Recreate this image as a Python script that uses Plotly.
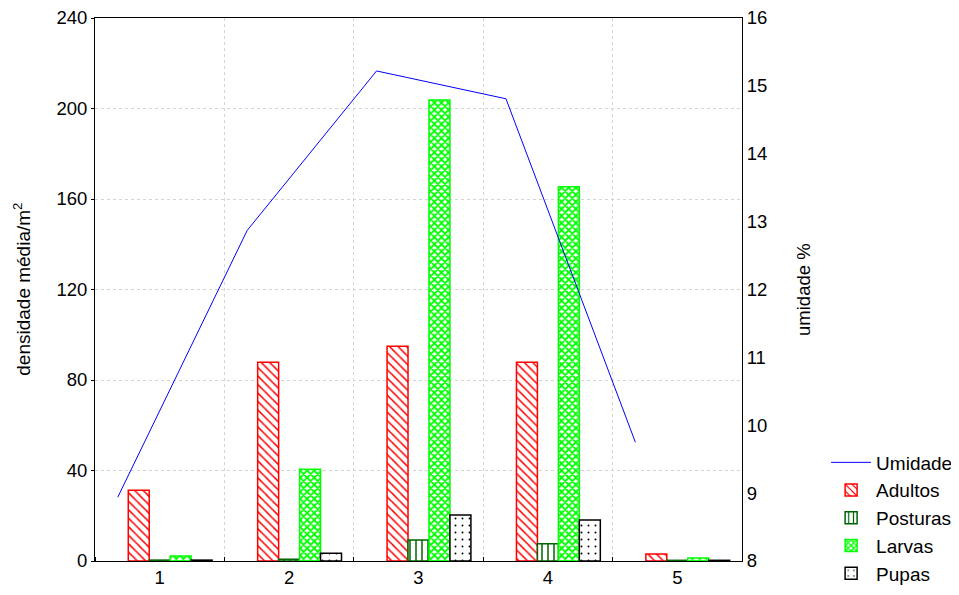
import plotly.graph_objects as go

categories = [1, 2, 3, 4, 5]
umidade = [8.94, 12.87, 15.22, 14.81, 9.75]
adultos = [31.3, 87.8, 94.9, 87.8, 3.1]
posturas = [0.4, 0.8, 9.3, 7.6, 0.3]
larvas = [2.2, 40.6, 203.8, 165.4, 1.3]
pupas = [0.4, 3.4, 20.3, 18.1, 0.3]

slot = 0.162  # width of one series slot within a category group
n_slots = 5
group_start = -n_slots * slot / 2

font_family = "Liberation Sans, Arial, sans-serif"

fig = go.Figure()

# line series occupies the first slot of each group
line_x = [c + group_start + slot / 2 for c in categories]
fig.add_trace(go.Scatter(
    x=line_x, y=umidade, name="Umidade", mode="lines",
    line=dict(color="#0000ff", width=1), yaxis="y2",
))

bar_specs = [
    ("Adultos", adultos, "#ff0000", "\\", 6, 0.25),
    ("Posturas", posturas, "#006400", "|", 6, 0.25),
    ("Larvas", larvas, "#00ff00", "x", 5, 0.6),
    ("Pupas", pupas, "#000000", ".", 7, 0.06),
]
for k, (name, vals, col, shape, size, sol) in enumerate(bar_specs, start=1):
    fig.add_trace(go.Bar(
        x=categories, y=vals, name=name,
        width=slot, offset=group_start + k * slot,
        marker=dict(
            color="white",
            line=dict(color=col, width=1.5),
            pattern=dict(shape=shape, fgcolor=col, bgcolor="white",
                         size=size, solidity=sol, fillmode="replace"),
        ),
    ))

grid_col = "#d4d4d4"

fig.update_layout(
    width=959, height=595,
    margin=dict(l=87, r=225, t=10, b=42, autoexpand=False),
    paper_bgcolor="white", plot_bgcolor="white",
    font=dict(family=font_family, size=18.5, color="black"),
    barmode="overlay",
    showlegend=True,
    legend=dict(x=1.13, y=-0.058, xanchor="left", yanchor="bottom",
                font=dict(size=19), tracegroupgap=0, itemwidth=40,
                bgcolor="rgba(0,0,0,0)"),
    xaxis=dict(
        range=[0.5, 5.5], tickvals=categories, ticktext=[str(c) for c in categories],
        showgrid=False, showline=True, linecolor="black", linewidth=1, mirror=True,
        ticks="", zeroline=False, automargin=False, ticklabeloverflow="allow",
        tickfont=dict(size=18.5),
        minor=dict(tick0=0.5, dtick=1, showgrid=True, gridcolor=grid_col,
                   griddash="dot", gridwidth=1, ticks="inside", ticklen=4,
                   tickcolor="black"),
    ),
    yaxis=dict(
        range=[0, 240], tickvals=[0, 40, 80, 120, 160, 200, 240],
        showgrid=True, gridcolor=grid_col, griddash="dot", gridwidth=1,
        showline=True, linecolor="black", linewidth=1,
        ticks="outside", ticklen=3, tickcolor="black", zeroline=False,
        automargin=False, ticklabeloverflow="allow", tickfont=dict(size=18.5),
    ),
    yaxis2=dict(
        range=[8, 16], tickvals=list(range(8, 17)), overlaying="y", side="right",
        showgrid=False, showline=True, linecolor="black", linewidth=1,
        ticks="", zeroline=False, automargin=False, ticklabeloverflow="allow",
        tickfont=dict(size=18.5),
    ),
    annotations=[
        dict(text="densidade média/m<sup>2</sup>", textangle=-90,
             xref="paper", yref="paper", x=-0.114, y=0.5,
             xanchor="center", yanchor="middle", showarrow=False,
             borderpad=0, font=dict(size=19)),
        dict(text="umidade %", textangle=-90,
             xref="paper", yref="paper", x=1.095, y=0.5,
             xanchor="center", yanchor="middle", showarrow=False,
             font=dict(size=18.5)),
    ],
)

fig.write_html("out.html")
